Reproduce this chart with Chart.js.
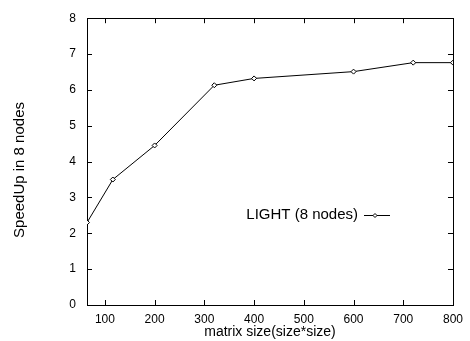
<!DOCTYPE html>
<html>
<head>
<meta charset="utf-8">
<script src="https://cdn.jsdelivr.net/npm/chart.js@4/dist/chart.umd.min.js"></script>
<style>
  html, body { margin: 0; padding: 0; background: #fff; }
  #wrap { width: 470px; height: 341px; position: relative; }
</style>
</head>
<body>
<div id="wrap"><canvas id="c" width="470" height="341"></canvas></div>
<script>
const sizes = [64, 116, 200, 320, 400, 600, 720, 800];
const speedup = [2.3, 3.5, 4.45, 6.13, 6.32, 6.51, 6.76, 6.76];
const xTicks = [100, 200, 300, 400, 500, 600, 700, 800];
const yTicks = [0, 1, 2, 3, 4, 5, 6, 7, 8];
const seriesLabel = 'LIGHT (8 nodes)';
const xTitle = 'matrix size(size*size)';
const yTitle = 'SpeedUp in 8 nodes';

const FONT = '"Liberation Sans", Arial, Helvetica, sans-serif';

const framePlugin = {
  id: 'frame',
  beforeDatasetsDraw(chart) {
    const ctx = chart.ctx, a = chart.chartArea;
    const xs = chart.scales.x, ys = chart.scales.y;
    ctx.save();
    ctx.strokeStyle = '#000';
    ctx.lineWidth = 1;
    ctx.strokeRect(Math.round(a.left) + 0.5, Math.round(a.top) + 0.5,
                   Math.round(a.right - a.left), Math.round(a.bottom - a.top));
    ctx.beginPath();
    const tl = 5;
    xTicks.forEach(v => {
      const px = Math.round(xs.getPixelForValue(v)) + 0.5;
      ctx.moveTo(px, a.bottom); ctx.lineTo(px, a.bottom - tl);
      ctx.moveTo(px, a.top); ctx.lineTo(px, a.top + tl);
    });
    yTicks.forEach(v => {
      const py = Math.round(ys.getPixelForValue(v)) + 0.5;
      ctx.moveTo(a.left, py); ctx.lineTo(a.left + tl, py);
      ctx.moveTo(a.right, py); ctx.lineTo(a.right - tl, py);
    });
    ctx.stroke();
    // y axis title
    ctx.fillStyle = '#000';
    ctx.font = '15px ' + FONT;
    ctx.textAlign = 'center';
    ctx.textBaseline = 'middle';
    ctx.translate(20, 170);
    ctx.rotate(-Math.PI / 2);
    ctx.fillText(yTitle, 0, 0);
    ctx.restore();
  },
  afterDraw(chart) {
    const ctx = chart.ctx;
    const ds = chart.data.datasets[0];
    ctx.save();
    ctx.fillStyle = '#000';
    ctx.font = '15px ' + FONT;
    ctx.textAlign = 'right';
    ctx.textBaseline = 'middle';
    const ty = 215;
    ctx.fillText(ds.label, 358, ty);
    ctx.strokeStyle = '#000';
    ctx.lineWidth = 1;
    ctx.beginPath();
    ctx.moveTo(364, ty + 0.5); ctx.lineTo(390, ty + 0.5);
    ctx.stroke();
    ctx.beginPath();
    const cx = 375, cy = ty + 0.5, r = 2;
    ctx.moveTo(cx, cy - r); ctx.lineTo(cx + r, cy); ctx.lineTo(cx, cy + r); ctx.lineTo(cx - r, cy); ctx.closePath();
    ctx.fillStyle = '#fff';
    ctx.fill();
    ctx.stroke();
    ctx.restore();
  }
};

new Chart(document.getElementById('c'), {
  type: 'line',
  data: {
    datasets: [{
      label: seriesLabel,
      data: sizes.map((s, i) => ({ x: s, y: speedup[i] })),
      borderColor: '#000',
      borderWidth: 1,
      backgroundColor: '#fff',
      pointStyle: 'rectRot',
      pointRadius: 2.5,
      pointBorderWidth: 1,
      pointBorderColor: '#000',
      pointBackgroundColor: '#fff',
      tension: 0,
      fill: false
    }]
  },
  options: {
    responsive: false,
    animation: false,
    devicePixelRatio: 1,
    layout: { padding: { top: 14, right: 13, left: 0, bottom: 0 } },
    plugins: {
      legend: { display: false },
      tooltip: { enabled: false }
    },
    scales: {
      x: {
        type: 'linear',
        min: 64,
        max: 800,
        afterBuildTicks: s => { s.ticks = xTicks.map(v => ({ value: v })); },
        afterFit: s => { s.height = 36; },
        grid: { display: false, drawTicks: false },
        border: { display: false },
        ticks: { color: '#000', font: { family: FONT, size: 12 }, padding: 7, maxRotation: 0, autoSkip: false },
        title: { display: true, text: xTitle, color: '#000', font: { family: FONT, size: 14 }, padding: { top: 0, bottom: 0 } }
      },
      y: {
        type: 'linear',
        min: 0,
        max: 8,
        afterBuildTicks: s => { s.ticks = yTicks.map(v => ({ value: v })); },
        afterFit: s => { s.width = 87; },
        grid: { display: false, drawTicks: false },
        border: { display: false },
        ticks: { color: '#000', font: { family: FONT, size: 12 }, padding: 11 }
      }
    }
  },
  plugins: [framePlugin]
});
</script>
</body>
</html>
